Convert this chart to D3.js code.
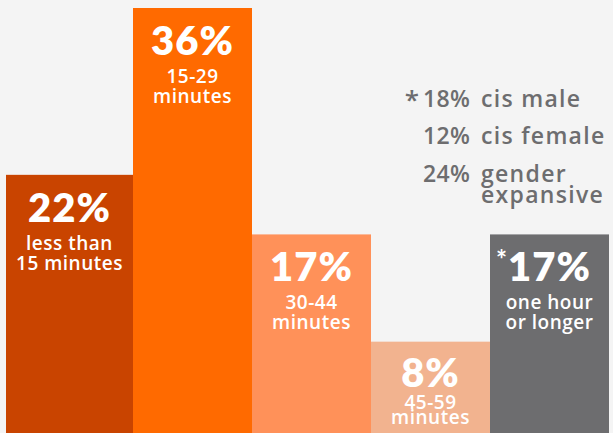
<!DOCTYPE html>
<html>
<head>
<meta charset="utf-8">
<script src="https://cdn.jsdelivr.net/npm/d3@7"></script>
<style>
  html, body { margin: 0; padding: 0; background: #f4f4f4; }
  svg { display: block; }
</style>
</head>
<body>
<div id="chart"></div>
<script>
// Commute time distribution
const categories = ["less than 15 minutes", "15-29 minutes", "30-44 minutes", "45-59 minutes", "one hour or longer"];
const labelLines = [["less than", "15 minutes"], ["15-29", "minutes"], ["30-44", "minutes"], ["45-59", "minutes"], ["one hour", "or longer"]];
const values = [22, 36, 17, 8, 17];
const flagged = [false, false, false, false, true];
const barColors = ["#c94400", "#ff6a00", "#ff9159", "#f2b38f", "#6d6d6f"];

// Share commuting one hour or longer, by gender identity
const groupNames = [["cis male"], ["cis female"], ["gender", "expansive"]];
const groupValues = [18, 12, 24];
const groupFlagged = [true, false, false];

const W = 613, H = 433;
const NUM_FONT = "Lato, 'Open Sans', sans-serif";
const TEXT_FONT = "'Open Sans', Lato, sans-serif";

const svg = d3.select("#chart").append("svg")
  .attr("width", W).attr("height", H);

svg.append("rect").attr("width", W).attr("height", H).attr("fill", "#f4f4f4");

const x = d3.scaleBand().domain(categories).range([14, 609]).paddingInner(0).paddingOuter(0);
const y = d3.scaleLinear().domain([0, 36]).range([437, 8]);

const barLeft = (d, i) => i === 0 ? 6 : x(d);
const barRight = d => x(d) + x.bandwidth();

const bars = svg.append("g").selectAll("g").data(categories).join("g");

bars.append("rect")
  .attr("x", (d, i) => barLeft(d, i))
  .attr("y", (d, i) => y(values[i]))
  .attr("width", (d, i) => barRight(d) - barLeft(d, i))
  .attr("height", (d, i) => y(0) - y(values[i]))
  .attr("fill", (d, i) => barColors[i]);

bars.each(function (d, i) {
  const g = d3.select(this);
  const cx = (barLeft(d, i) + barRight(d)) / 2;
  const top = y(values[i]);
  const compact = y(0) - top < 120;
  const offs = compact ? [45, 67, 82] : [47, 75, 95];

  const pct = g.append("text")
    .attr("x", cx).attr("y", top + offs[0])
    .attr("text-anchor", "middle")
    .attr("fill", "#fff")
    .attr("font-family", NUM_FONT)
    .attr("font-weight", 800)
    .attr("font-size", 40)
    .attr("letter-spacing", 1)
    .text(values[i] + "%");

  if (flagged[i]) {
    const bb = pct.node().getBBox();
    g.append("text")
      .attr("x", bb.x - 1).attr("y", top + offs[0] - 12)
      .attr("text-anchor", "end")
      .attr("fill", "#fff")
      .attr("font-family", NUM_FONT)
      .attr("font-weight", 700)
      .attr("font-size", 26)
      .text("*");
  }

  labelLines[i].forEach((line, k) => {
    g.append("text")
      .attr("x", cx).attr("y", top + offs[k + 1])
      .attr("text-anchor", "middle")
      .attr("fill", "#fff")
      .attr("font-family", TEXT_FONT)
      .attr("font-weight", 600)
      .attr("font-size", 19)
      .attr("letter-spacing", 0.5)
      .text(line);
  });
});

// Gender identity breakdown
const legend = svg.append("g").attr("fill", "#6d6d6f")
  .attr("font-family", TEXT_FONT).attr("font-weight", 600).attr("font-size", 23)
  .attr("letter-spacing", 1.3);

const rowY = [106.5, 144, 181.5];
groupValues.forEach((v, i) => {
  if (groupFlagged[i]) {
    legend.append("text").attr("x", 419).attr("y", rowY[i] + 2)
      .attr("text-anchor", "end").attr("font-size", 26).attr("letter-spacing", 0).text("*");
  }
  legend.append("text").attr("x", 423).attr("y", rowY[i]).attr("letter-spacing", 0.4).text(v + "%");
  groupNames[i].forEach((line, k) => {
    legend.append("text").attr("x", 481).attr("y", rowY[i] + k * 21.5).text(line);
  });
});
</script>
</body>
</html>
